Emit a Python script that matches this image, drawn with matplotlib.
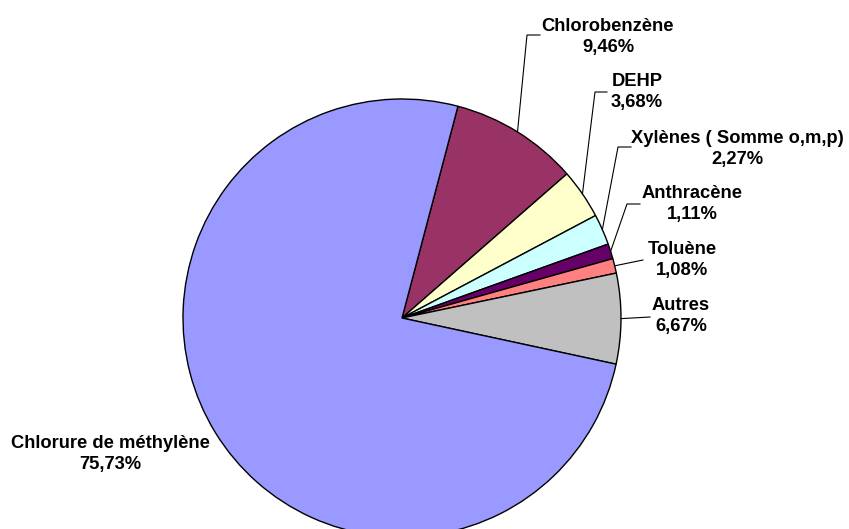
import matplotlib
matplotlib.use("Agg")
import matplotlib.pyplot as plt
import numpy as np

labels = ["Chlorobenzène", "DEHP", "Xylènes ( Somme o,m,p)", "Anthracène",
          "Toluène", "Autres", "Chlorure de méthylène"]
values = [9.46, 3.68, 2.27, 1.11, 1.08, 6.67, 75.73]
pct_text = ["9,46%", "3,68%", "2,27%", "1,11%", "1,08%", "6,67%", "75,73%"]
colors = ["#993366", "#FFFFCC", "#CCFFFF", "#660066", "#FF8080", "#C0C0C0", "#9999FF"]

W, H = 849, 529
fig = plt.figure(figsize=(W / 100, H / 100), dpi=100)
ax = fig.add_axes([0, 0, 1, 1])

cx, cy, r = 402, H - 318, 219
start = 75.2
wedges, _ = ax.pie(values, colors=colors, startangle=start, counterclock=False,
                   center=(cx, cy), radius=r, frame=True,
                   wedgeprops=dict(edgecolor="black", linewidth=1.0))
ax.set_xlim(0, W)
ax.set_ylim(0, H)
ax.set_aspect("equal")
ax.axis("off")

# layout per label: elbow point (or None), leader end point, text centre (pixel coords, y down)
layout = [
    ((527, 35), (540, 35), (608, 37)),
    ((595, 92), (607, 92), (637, 92)),
    ((618, 147), (631, 147), (737, 149)),
    ((627, 204), (640, 204), (692, 204)),
    (None, (643, 260), (682, 260)),
    (None, (650, 317), (681, 316)),
    (None, None, (110, 454)),
]

for w, lab, pt, (elbow, end, txt) in zip(wedges, labels, pct_text, layout):
    mid = np.deg2rad((w.theta1 + w.theta2) / 2)
    sx, sy = cx + r * np.cos(mid), cy + r * np.sin(mid)
    if end is not None:
        xs, ys = [sx], [sy]
        if elbow is not None:
            xs.append(elbow[0])
            ys.append(H - elbow[1])
        xs.append(end[0])
        ys.append(H - end[1])
        ax.plot(xs, ys, color="black", lw=0.8)
    ax.text(txt[0], H - txt[1], lab + "\n" + pt, ha="center", va="center",
            fontsize=13.2, fontweight="bold", family=["Liberation Sans", "DejaVu Sans"],
            linespacing=1.3)

fig.savefig("out.png", dpi=100)
